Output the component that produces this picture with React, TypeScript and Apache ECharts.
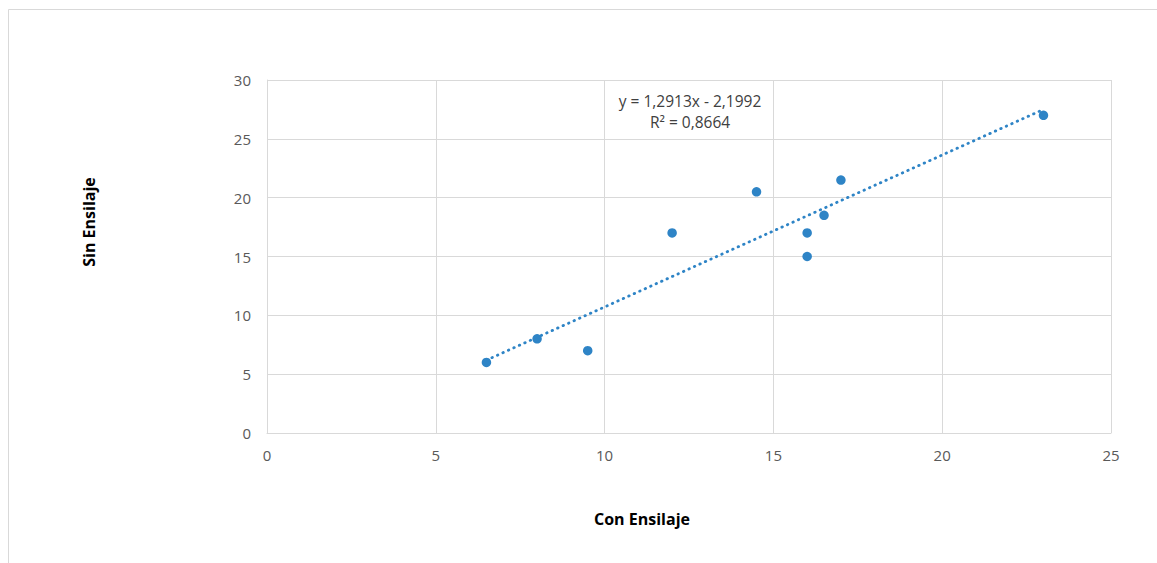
import React, { useEffect, useRef } from "react";
import * as echarts from "echarts";

const conEnsilaje = [6.5, 8, 9.5, 12, 14.5, 16, 16, 16.5, 17, 23];
const sinEnsilaje = [6, 8, 7, 17, 20.5, 17, 15, 18.5, 21.5, 27];
const trendSlope = 1.2913;
const trendIntercept = -2.1992;
const equationLabel = "y = 1,2913x - 2,1992";
const r2Label = "R² = 0,8664";
const xTitle = "Con Ensilaje";
const yTitle = "Sin Ensilaje";

const FONT = "'Open Sans', 'Noto Sans', sans-serif";
const BLUE = "#2E84C6";

export default function App() {
  const ref = useRef<HTMLDivElement>(null);
  useEffect(() => {
    if (!ref.current) return;
    const chart = echarts.init(ref.current, undefined, { renderer: "svg" });
    const points = conEnsilaje.map((x, i) => [x, sinEnsilaje[i]]);
    const xMin = Math.min(...conEnsilaje);
    const xMax = Math.max(...conEnsilaje);
    const trend = [
      [xMin, trendSlope * xMin + trendIntercept],
      [xMax, trendSlope * xMax + trendIntercept],
    ];
    chart.setOption({
      animation: false,
      textStyle: { fontFamily: FONT },
      grid: { left: 267, top: 80, right: 46, bottom: 130, show: false },
      xAxis: {
        type: "value",
        min: 0,
        max: 25,
        interval: 5,
        axisLine: { show: true, lineStyle: { color: "#d9d9d9", width: 1 } },
        axisTick: { show: false },
        splitLine: { show: true, lineStyle: { color: "#d9d9d9", width: 1 } },
        axisLabel: { color: "#595959", fontSize: 15, fontFamily: FONT, margin: 14 },
      },
      yAxis: {
        type: "value",
        min: 0,
        max: 30,
        interval: 5,
        axisLine: { show: true, lineStyle: { color: "#d9d9d9", width: 1 } },
        axisTick: { show: false },
        splitLine: { show: true, lineStyle: { color: "#d9d9d9", width: 1 } },
        axisLabel: { color: "#595959", fontSize: 15, fontFamily: FONT, margin: 16 },
      },
      graphic: [
        {
          type: "rect",
          shape: { x: 8.5, y: 9.5, width: 1200, height: 600 },
          style: { fill: "none", stroke: "#d9d9d9", lineWidth: 1 },
          z: -10,
        },
        {
          type: "text",
          x: 690,
          y: 101,
          style: {
            text: equationLabel,
            fontSize: 15.5,
            fontFamily: FONT,
            fill: "#404040",
            textAlign: "center",
            textVerticalAlign: "middle",
          },
        },
        {
          type: "text",
          x: 690,
          y: 122,
          style: {
            text: r2Label,
            fontSize: 15.5,
            fontFamily: FONT,
            fill: "#404040",
            textAlign: "center",
            textVerticalAlign: "middle",
          },
        },
        {
          type: "text",
          x: 642,
          y: 519,
          style: {
            text: xTitle,
            fontSize: 16,
            fontWeight: "bold",
            fontFamily: FONT,
            fill: "#000000",
            textAlign: "center",
            textVerticalAlign: "middle",
          },
        },
        {
          type: "text",
          x: 89,
          y: 222,
          rotation: Math.PI / 2,
          style: {
            text: yTitle,
            fontSize: 16,
            fontWeight: "bold",
            fontFamily: FONT,
            fill: "#000000",
            textAlign: "center",
            textVerticalAlign: "middle",
          },
        },
      ],
      series: [
        {
          type: "line",
          data: trend,
          symbol: "none",
          lineStyle: { color: BLUE, width: 2.8, type: [0.5, 5.5], cap: "round" },
          z: 2,
        },
        {
          type: "scatter",
          data: points,
          symbol: "circle",
          symbolSize: 9.5,
          itemStyle: { color: BLUE, opacity: 1 },
          z: 3,
        },
      ],
    });
    return () => chart.dispose();
  }, []);
  return (
    <div
      ref={ref}
      style={{ position: "absolute", left: 0, top: 0, width: 1157, height: 563, background: "#fff" }}
    />
  );
}
